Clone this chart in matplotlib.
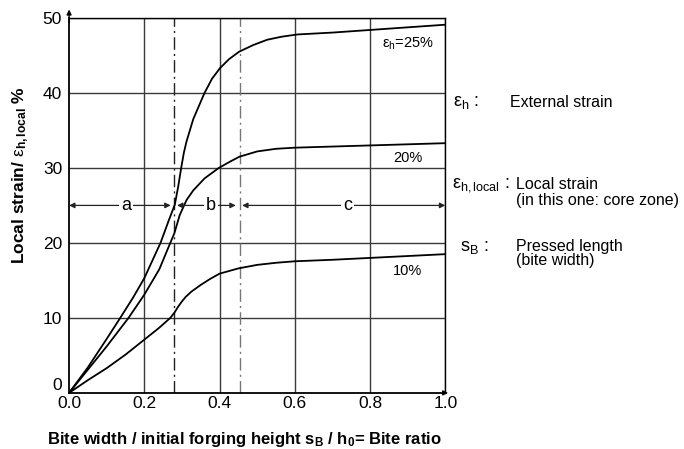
import matplotlib
matplotlib.use("Agg")
import matplotlib.pyplot as plt

plt.rcParams['font.family'] = ['Liberation Sans', 'DejaVu Sans']
plt.rcParams['mathtext.fontset'] = 'custom'
plt.rcParams['mathtext.rm'] = 'Liberation Sans'
plt.rcParams['mathtext.it'] = 'Liberation Sans:italic'
plt.rcParams['mathtext.bf'] = 'Liberation Sans:bold'

# Local strain curves for three external strains
x_25 = [0, 0.05, 0.1, 0.136, 0.17, 0.2, 0.243, 0.265, 0.281, 0.29, 0.298, 0.305,
        0.312, 0.33, 0.36, 0.38, 0.401, 0.425, 0.452, 0.49, 0.527, 0.565, 0.607,
        0.7, 0.8, 0.9, 1.0]
y_25 = [0, 3.4, 7.2, 10, 12.7, 15.3, 20, 23.0, 25.1, 27.5, 30, 32, 33.5, 36.5,
        40, 41.9, 43.3, 44.5, 45.5, 46.4, 47.1, 47.5, 47.8, 48.05, 48.4, 48.75, 49.1]

x_20 = [0, 0.05, 0.1, 0.158, 0.2, 0.24, 0.269, 0.28, 0.294, 0.312, 0.33, 0.36,
        0.398, 0.43, 0.453, 0.5, 0.55, 0.6, 0.7, 0.8, 0.9, 1.0]
y_20 = [0, 3.1, 6.2, 10, 13.1, 16.5, 20, 21.3, 23.7, 25.7, 27.0, 28.6, 30, 30.9,
        31.5, 32.2, 32.55, 32.7, 32.85, 33.0, 33.15, 33.3]

x_10 = [0, 0.05, 0.1, 0.15, 0.2, 0.24, 0.269, 0.28, 0.29, 0.3, 0.31, 0.325,
        0.35, 0.375, 0.4, 0.45, 0.5, 0.55, 0.6, 0.7, 0.8, 0.9, 1.0]
y_10 = [0, 1.7, 3.3, 5.1, 7.1, 8.7, 10, 10.7, 11.5, 12.2, 12.8, 13.5, 14.4, 15.2,
        15.9, 16.6, 17.07, 17.35, 17.55, 17.75, 18.0, 18.25, 18.5]

curve_labels = [r"$\mathrm{ε_h}$=25%", "20%", "10%"]
label_pos = [(0.9, 46.5), (0.9, 31.3), (0.9, 16.2)]

# Zone boundaries and zone names
zone_bounds = [0.28, 0.453]
zone_names = ["a", "b", "c"]
zone_spans = [(0.0, 0.27), (0.287, 0.443), (0.46, 1.0)]
zone_text_x = [0.152, 0.378, 0.74]
zone_level = 25

x_ticks = [0.0, 0.2, 0.4, 0.6, 0.8, 1.0]
y_ticks = [0, 10, 20, 30, 40, 50]

fig = plt.figure(figsize=(6.84, 4.49), dpi=100)
ax = fig.add_axes([0.101, 0.125, 0.55, 0.835])

grid_c = "#3a3a3a"
for xv in x_ticks[1:]:
    ax.axvline(xv, color=grid_c, lw=1.0, zorder=1)
for yv in y_ticks[1:]:
    ax.axhline(yv, color=grid_c, lw=1.0, zorder=1)

ax.axvline(zone_bounds[0], color="#222222", lw=1.0, ls=(0, (9, 3, 1.5, 3)), zorder=1)
ax.axvline(zone_bounds[1], color="#777777", lw=1.0, ls=(0, (9, 3, 1.5, 3)), zorder=1)

for xs, ys in [(x_25, y_25), (x_20, y_20), (x_10, y_10)]:
    ax.plot(xs, ys, color="black", lw=1.3, zorder=3, solid_joinstyle="round")

for lbl, (lx, ly) in zip(curve_labels, label_pos):
    ax.text(lx, ly, lbl, fontsize=10.5, ha="center", va="center", zorder=4)

for (x0, x1), name, tx in zip(zone_spans, zone_names, zone_text_x):
    ax.annotate("", xy=(x0, zone_level), xytext=(x1, zone_level),
                arrowprops=dict(arrowstyle="<|-|>", color="#222222", lw=0.9,
                                mutation_scale=8, shrinkA=0, shrinkB=0), zorder=4)
    ax.text(tx, zone_level, name, fontsize=13, ha="center", va="center",
            bbox=dict(facecolor="white", edgecolor="none", pad=1.5), zorder=5)

ax.set_xlim(0, 1.0)
ax.set_ylim(0, 50)
ax.set_xticks(x_ticks)
ax.set_xticklabels([f"{v:.1f}" for v in x_ticks])
ax.set_yticks(y_ticks)
ax.tick_params(length=0, labelsize=12.5)
ax.tick_params(axis="x", pad=2)
ax.tick_params(axis="y", pad=5)
for s in ax.spines.values():
    s.set_color("black")
    s.set_linewidth(1.0)
ax.spines["left"].set_linewidth(1.3)
ax.spines["bottom"].set_linewidth(1.3)
# lift the zero label off the x tick labels
ax.get_yticklabels()[0].set_va("bottom")

# arrowheads on the axes
ax.annotate("", xy=(0, 51.5), xytext=(0, 49),
            arrowprops=dict(arrowstyle="-|>", color="black", lw=1, mutation_scale=7),
            annotation_clip=False)
ax.annotate("", xy=(1.015, 0), xytext=(0.99, 0),
            arrowprops=dict(arrowstyle="-|>", color="black", lw=1, mutation_scale=7),
            annotation_clip=False)

ax.set_ylabel(r"Local strain/ $\mathrm{ε}_{\mathbf{h,local}}$ %", fontsize=12.5,
              fontweight="bold")
ax.yaxis.set_label_coords(-0.102, 0.58)
ax.set_xlabel(r"Bite width / initial forging height s$_{\mathbf{B}}$ / h$_{\mathbf{0}}$= Bite ratio",
              fontsize=12, fontweight="bold")
ax.xaxis.set_label_coords(0.466, -0.098)

# Symbol explanations
fs = 11.5
fig.text(0.663, 0.772, r"$\mathrm{ε_h}$ :", fontsize=13, va="center")
fig.text(0.745, 0.772, "External strain", fontsize=fs, va="center")
fig.text(0.661, 0.588, r"$\mathrm{ε_{h,local}}$ :", fontsize=13, va="center")
fig.text(0.755, 0.588, "Local strain", fontsize=fs, va="center")
fig.text(0.755, 0.553, "(in this one: core zone)", fontsize=fs, va="center")
fig.text(0.673, 0.448, r"$\mathrm{s_B}$ :", fontsize=13, va="center")
fig.text(0.755, 0.452, "Pressed length", fontsize=fs, va="center")
fig.text(0.755, 0.420, "(bite width)", fontsize=fs, va="center")

fig.savefig("out.png", dpi=100)
